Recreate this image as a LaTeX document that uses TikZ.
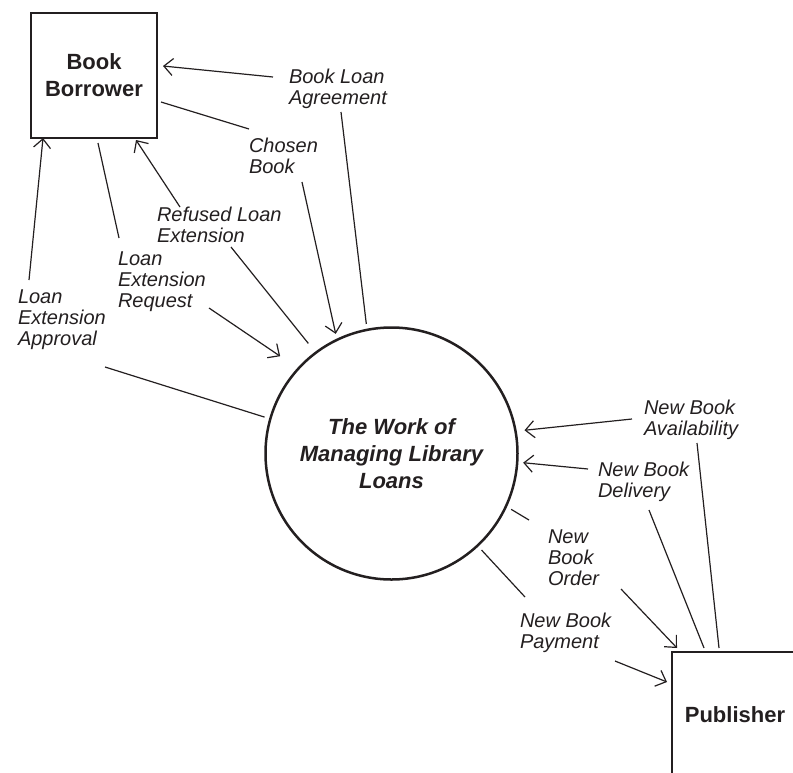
\documentclass[tikz,border=0pt]{standalone}
\usepackage{fontspec}
\setmainfont{Liberation Sans}
\usepackage{xcolor}
\usepackage{tikz}
\usetikzlibrary{arrows.meta}

\definecolor{ink}{RGB}{35,31,32}

\begin{document}
\begin{tikzpicture}[x=1pt,y=-1pt,>={Straight Barb[length=9pt,width=17pt]},
    entity/.style={draw=ink,line width=1.5pt,minimum width=126pt,minimum height=125pt,inner sep=0pt,outer sep=0pt,align=center,text=ink,font=\fontsize{22}{27}\selectfont\bfseries},
    process/.style={circle,draw=ink,line width=2.5pt,minimum size=252pt,inner sep=0pt,outer sep=6pt,align=center,text=ink,font=\fontsize{22}{27}\selectfont\bfseries\itshape},
    flowlabel/.style={anchor=north west,inner sep=0pt,outer sep=0pt,align=left,text=ink,font=\fontsize{20}{20.7}\selectfont\itshape},
    flow/.style={draw=ink,line width=1.2pt}]
      \useasboundingbox (0,0) rectangle (793,772);
      \clip (0,0) rectangle (793,772);
      \node[entity] (borrower) at (94,75.5) {Book\\Borrower};
      \node[entity,minimum height=126pt] (publisher) at (735,715) {Publisher};
      \node[process] (proc) at (391.5,453.5) {The Work of\\Managing Library\\Loans};
      \node[flowlabel] (agree) at (289,69) {Book Loan\\Agreement};
      \node[flowlabel] (chosen) at (249,138) {Chosen\\Book};
      \node[flowlabel] (refused) at (157,207) {Refused Loan\\Extension};
      \node[flowlabel] (request) at (118,252) {Loan\\Extension\\Request};
      \node[flowlabel] (approval) at (18,290) {Loan\\Extension\\Approval};
      \node[flowlabel] (avail) at (644,400) {New Book\\Availability};
      \node[flowlabel] (delivery) at (598,462) {New Book\\Delivery};
      \node[flowlabel] (order) at (548,530) {New\\Book\\Order};
      \node[flowlabel] (payment) at (520,613) {New Book\\Payment};
      \draw[flow] (proc.101) -- ([shift={(52,43)}]agree.north west);
      \draw[flow,->] ([shift={(-16,8)}]agree.north west) -- ([shift={(6,53)}]borrower.north east);
      \draw[flow] ([shift={(4,89)}]borrower.north east) -- ([shift={(0,-9)}]chosen.north west);
      \draw[flow,->] ([shift={(53,44)}]chosen.north west) -- (proc.115);
      \draw[flow,shorten <=6pt] (proc.127) -- ([shift={(74,40)}]refused.north west);
      \draw[flow,->] ([shift={(23,0)}]refused.north west) -- ([shift={(-21,2)}]borrower.south east);
      \draw[flow] ([shift={(4,5)}]borrower.south) -- ([shift={(1,-14)}]request.north west);
      \draw[flow,->,shorten >=16pt] ([shift={(91,56)}]request.north west) -- (proc.138);
      \draw[flow] (proc.164) -- ([shift={(87,77)}]approval.north west);
      \draw[flow,->] ([shift={(11,-10)}]approval.north west) -- ([shift={(12,0)}]borrower.south west);
      \draw[flow] ([shift={(47,-4)}]publisher.north west) -- ([shift={(53,43)}]avail.north west);
      \draw[flow,->,shorten >=3pt] ([shift={(-12,19)}]avail.north west) -- (proc.10);
      \draw[flow] ([shift={(32,-4)}]publisher.north west) -- ([shift={(51,48)}]delivery.north west);
      \draw[flow,->] ([shift={(-10,7)}]delivery.north west) -- (proc.-4);
      \draw[flow] (proc.-25) -- ([shift={(-19,-10)}]order.north west);
      \draw[flow,->] ([shift={(73,59)}]order.north west) -- ([shift={(5,-4)}]publisher.north west);
      \draw[flow] (proc.-47) -- ([shift={(5,-16)}]payment.north west);
      \draw[flow,->] ([shift={(95,48)}]payment.north west) -- ([shift={(-5,30)}]publisher.north west);
    \end{tikzpicture}
\end{document}
